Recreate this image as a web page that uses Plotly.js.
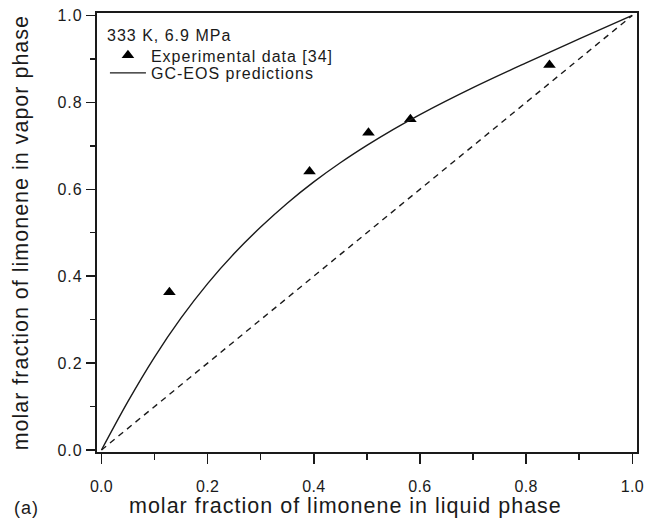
<!DOCTYPE html>
<html>
<head>
<meta charset="utf-8">
<script src="https://cdn.plot.ly/plotly-3.0.1.min.js"></script>
<style>
html,body{margin:0;padding:0;background:#fff;}
#chart{width:645px;height:521px;}
svg text{letter-spacing:1px;}
svg g.xtick text{letter-spacing:0.3px;}
</style>
</head>
<body>
<div id="chart"></div>
<script>
// Experimental data [34]
var expX = [0.128, 0.392, 0.503, 0.582, 0.844];
var expY = [0.363, 0.641, 0.730, 0.761, 0.886];
// GC-EOS predictions
var gcX = [0, 0.05, 0.10, 0.15, 0.20, 0.25, 0.30, 0.35, 0.40, 0.45, 0.50, 0.55, 0.60, 0.70, 0.80, 0.90, 1.0];
var gcY = [0, 0.112, 0.214, 0.304, 0.383, 0.452, 0.513, 0.568, 0.617, 0.661, 0.701, 0.738, 0.772, 0.834, 0.891, 0.946, 1.0];
// diagonal y = x
var diagX = [0, 1];
var diagY = [0, 1];
var xTicks = [0, 0.2, 0.4, 0.6, 0.8, 1.0];
var xTickText = ['0.0', '0.2', '0.4', '0.6', '0.8', '1.0'];
var yTicks = [0, 0.2, 0.4, 0.6, 0.8, 1.0];
var yTickText = ['0.0', '0.2', '0.4', '0.6', '0.8', '1.0'];
var xTitle = 'molar fraction of limonene in liquid phase';
var yTitle = 'molar fraction of limonene in vapor phase';
var conditions = '333 K, 6.9 MPa';
var panelLabel = '(a)';

var FONT = 'Liberation Sans, Arial, Helvetica, sans-serif';
var INK = '#1a1a1a';

var traces = [
  {
    x: expX, y: expY, type: 'scatter', mode: 'markers',
    name: 'Experimental data [34]', legend: 'legend',
    marker: {symbol: 'triangle-up', size: 11, color: '#000'}
  },
  {
    x: gcX, y: gcY, type: 'scatter', mode: 'lines',
    name: 'GC-EOS predictions', legend: 'legend2',
    line: {color: INK, width: 1.4, shape: 'spline', smoothing: 1}
  },
  {
    x: diagX, y: diagY, type: 'scatter', mode: 'lines',
    showlegend: false, hoverinfo: 'skip',
    line: {color: INK, width: 1.4, dash: '6px,5px'}
  }
];

function axisBase(major, minorLen) {
  return {
    showgrid: false, zeroline: false,
    showline: true, linecolor: INK, linewidth: 1.6, mirror: true,
    ticks: 'outside', ticklen: major, tickwidth: 1.5, tickcolor: INK,
    tickfont: {family: FONT, size: 16, color: INK},
    ticklabeloverflow: 'allow',
    minor: {dtick: 0.1, ticks: 'outside', ticklen: minorLen, tickwidth: 1.5, tickcolor: INK, showgrid: false}
  };
}

function legendBox(yTop) {
  return {
    x: 0.0147, y: yTop, xanchor: 'left', yanchor: 'top',
    bgcolor: 'rgba(0,0,0,0)', borderwidth: 0,
    font: {family: FONT, size: 16, color: INK},
    itemwidth: 36, tracegroupgap: 0, traceorder: 'normal'
  };
}

var layout = {
  width: 645, height: 521,
  paper_bgcolor: '#fff', plot_bgcolor: '#fff',
  margin: {l: 96.5, r: 8, t: 12.5, b: 69},
  font: {family: FONT, color: INK},
  showlegend: true,
  legend: legendBox(0.9420),
  legend2: legendBox(0.9022),
  xaxis: Object.assign(axisBase(10, 6), {
    range: [-0.0084, 1.0089],
    tickvals: xTicks, ticktext: xTickText,
    ticklabelstandoff: 9
  }),
  yaxis: Object.assign(axisBase(9.5, 5), {
    range: [-0.0046, 1.0057],
    tickvals: yTicks, ticktext: yTickText
  }),
  annotations: [
    {text: xTitle, xref: 'paper', yref: 'paper', x: 0.055, y: -0.122, xanchor: 'left', yanchor: 'middle',
     showarrow: false, font: {family: FONT, size: 21.5, color: INK}},
    {text: yTitle, xref: 'paper', yref: 'paper', x: -0.141, y: 0.5, xanchor: 'center', yanchor: 'middle',
     textangle: -90, showarrow: false, font: {family: FONT, size: 21.5, color: INK}},
    {text: conditions, xref: 'paper', yref: 'paper', x: 0.0147, y: 0.9485, xanchor: 'left', yanchor: 'middle',
     showarrow: false, font: {family: FONT, size: 16, color: INK}},
    {text: panelLabel, xref: 'paper', yref: 'paper', x: -0.158, y: -0.127, xanchor: 'left', yanchor: 'middle',
     showarrow: false, font: {family: FONT, size: 18, color: INK}}
  ]
};

Plotly.newPlot('chart', traces, layout, {displayModeBar: false, staticPlot: true});
</script>
</body>
</html>
